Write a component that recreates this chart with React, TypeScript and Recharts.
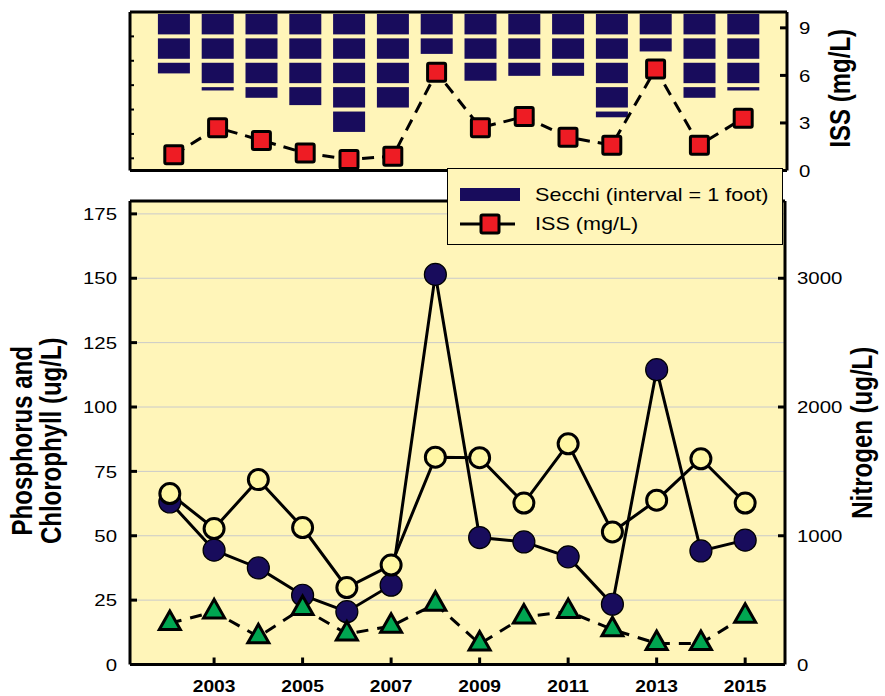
import React from "react";
import {
  ComposedChart,
  Bar,
  Line,
  XAxis,
  YAxis,
  CartesianGrid,
  Legend,
  Label,
} from "recharts";

// values
const years = [2002, 2003, 2004, 2005, 2006, 2007, 2008, 2009, 2010, 2011, 2012, 2013, 2014, 2015];
const secchiFt = [2.6, 3.3, 3.6, 3.9, 5.0, 4.0, 1.8, 2.9, 2.7, 2.7, 4.4, 1.7, 3.6, 3.3];
const issMgL = [1.0, 2.7, 1.9, 1.1, 0.7, 0.9, 6.2, 2.7, 3.4, 2.1, 1.6, 6.4, 1.6, 3.3];
const phosphorus = [63.1, 44.4, 37.5, 26.9, 20.5, 30.8, 151.5, 49.3, 47.6, 41.8, 23.4, 114.5, 44.1, 48.3];
const nitrogen = [1328, 1056, 1436, 1064, 598, 772, 1610, 1606, 1254, 1714, 1030, 1276, 1598, 1254];
const chlorophyll = [16.0, 20.5, 10.8, 21.8, 11.9, 14.9, 23.5, 8.0, 18.5, 20.6, 13.6, 8.2, 8.2, 18.8];

const issTicks = [0, 3, 6, 9];
const secchiTicks = [1, 2, 3, 4, 5, 6];
const leftTicks = [0, 25, 50, 75, 100, 125, 150, 175];
const nitrogenTicks = [0, 1000, 2000, 3000];
const yearTicks = [2003, 2005, 2007, 2009, 2011, 2013, 2015];

const topData = years.map((year, i) => ({ year, secchi: secchiFt[i], iss: issMgL[i] }));
const bottomData = years.map((year, i) => ({
  year,
  tp: phosphorus[i],
  tn: nitrogen[i],
  chl: chlorophyll[i],
}));

const FONT = '"Liberation Sans", Arial, Helvetica, sans-serif';
const SX = 1.2; // the original text is stretched sideways
const PANEL = "#FFF5B9";
const NAVY = "#180C5C";
const RED = "#EE1C24";
const GREEN = "#00A651";
const PALE = "#FFF7A4";
const frame = { stroke: "#000", strokeWidth: 3 };

// secchi bar split into 1 foot pieces
const SecchiShape = (props: any) => {
  const { x, y, width, height, payload } = props;
  const top = Math.min(y, y + height);
  const h = Math.abs(height);
  const ppf = h / payload.secchi;
  const parts = [];
  for (let k = 0; k * ppf < h; k++) {
    const s = top + k * ppf + 2;
    const e = Math.min(top + (k + 1) * ppf, top + h) - 2;
    if (e > s) parts.push(<rect key={k} x={x} y={s} width={width} height={e - s} fill={NAVY} />);
  }
  return <g>{parts}</g>;
};

const SquareDot = (p: any) => (
  <rect
    key={p.index}
    x={p.cx - 9}
    y={p.cy - 9}
    width={18}
    height={18}
    rx={1.5}
    fill={RED}
    stroke="#000"
    strokeWidth={3}
    strokeDasharray="none"
  />
);

const NavyDot = (p: any) => (
  <circle key={p.index} cx={p.cx} cy={p.cy} r={11} fill={NAVY} stroke="#000" strokeWidth={1.2} />
);

const PaleDot = (p: any) => (
  <circle key={p.index} cx={p.cx} cy={p.cy} r={10} fill={PALE} stroke="#000" strokeWidth={3} />
);

const TriDot = (p: any) => {
  const s = 21;
  const h = 18.5;
  const pts = `${p.cx},${p.cy - (2 * h) / 3} ${p.cx - s / 2},${p.cy + h / 3} ${p.cx + s / 2},${p.cy + h / 3}`;
  return (
    <polygon key={p.index} points={pts} fill={GREEN} stroke="#000" strokeWidth={3} strokeDasharray="none" />
  );
};

const Txt = ({ x, y, anchor, size, bold, children }: any) => (
  <text
    transform={`translate(${x},${y}) scale(${SX},1)`}
    textAnchor={anchor}
    dy="0.36em"
    fontFamily={FONT}
    fontSize={size}
    fontWeight={bold ? "bold" : "normal"}
    fill="#000"
  >
    {children}
  </text>
);

// ticks point into the plot; labels sit outside
const LeftTick = ({ x, y, payload }: any) => (
  <g>
    <line x1={x + 13} x2={x + 20} y1={y} y2={y} stroke="#000" strokeWidth={3} />
    <Txt x={x} y={y} anchor="end" size={17}>{payload.value}</Txt>
  </g>
);

const RightTick = ({ x, y, payload }: any) => (
  <g>
    <line x1={x - 12} x2={x - 19} y1={y} y2={y} stroke="#000" strokeWidth={3} />
    <Txt x={x} y={y} anchor="start" size={17}>{payload.value}</Txt>
  </g>
);

const SecchiTick = ({ x, y }: any) => (
  <line x1={x} x2={x + 4} y1={y} y2={y} stroke="#000" strokeWidth={2} />
);

const YearTick = ({ x, y, payload }: any) => (
  <g>
    <line x1={x} x2={x} y1={y - 22} y2={y - 29} stroke="#000" strokeWidth={3} />
    <Txt x={x} y={y} anchor="middle" size={16} bold>{payload.value}</Txt>
  </g>
);

const VTitle = ({ cx, cy, text }: any) => (
  <text
    transform={`translate(${cx},${cy}) scale(${SX},1) rotate(-90)`}
    textAnchor="middle"
    dominantBaseline="central"
    fontFamily={FONT}
    fontSize={24}
    fontWeight="bold"
    fill="#000"
  >
    {text}
  </text>
);

const LegendBox = () => (
  <svg width={336} height={77} style={{ display: "block" }}>
    <rect x={0.5} y={0.5} width={335} height={76} fill={PANEL} stroke="#000" strokeWidth={1} />
    <rect x={13} y={20} width={60} height={13} fill={NAVY} />
    <Txt x={88} y={27} anchor="start" size={18}>Secchi (interval = 1 foot)</Txt>
    <line x1={13} x2={68} y1={56} y2={56} stroke="#000" strokeWidth={3} />
    <rect x={34} y={47} width={18} height={18} rx={1.5} fill={RED} stroke="#000" strokeWidth={3} />
    <Txt x={88} y={56} anchor="start" size={18}>ISS (mg/L)</Txt>
  </svg>
);

export default function App() {
  return (
    <div style={{ position: "absolute", left: 0, top: 0, width: 885, height: 696 }}>
      <div style={{ position: "absolute", left: 0, top: 0 }}>
        <ComposedChart width={885} height={185} data={topData} margin={{ top: 0, right: 0, bottom: 0, left: 0 }}>
          <CartesianGrid horizontal={false} vertical={false} fill={PANEL} yAxisId="iss" />
          <XAxis
            dataKey="year"
            type="number"
            domain={[2001, 2016]}
            height={14.5}
            tick={false}
            tickLine={false}
            axisLine={frame}
          />
          <XAxis
            xAxisId="top"
            orientation="top"
            dataKey="year"
            type="number"
            domain={[2001, 2016]}
            height={12}
            tick={false}
            tickLine={false}
            axisLine={frame}
          />
          <YAxis
            yAxisId="secchi"
            type="number"
            domain={[0, 6.5]}
            reversed
            ticks={secchiTicks}
            interval={0}
            width={130}
            tickSize={0}
            tickMargin={0}
            tickLine={false}
            tick={<SecchiTick />}
            axisLine={frame}
          />
          <YAxis
            yAxisId="iss"
            orientation="right"
            type="number"
            domain={[0, 10]}
            ticks={issTicks}
            interval={0}
            width={98}
            tickSize={0}
            tickMargin={12}
            tickLine={false}
            tick={<RightTick />}
            axisLine={frame}
          >
            <Label
              content={(p: any) => (
                <VTitle cx={p.viewBox.x + 53} cy={p.viewBox.y + p.viewBox.height / 2 - 3} text="ISS (mg/L)" />
              )}
            />
          </YAxis>
          <Bar
            yAxisId="secchi"
            dataKey="secchi"
            name="Secchi (interval = 1 foot)"
            barSize={32}
            shape={<SecchiShape />}
            isAnimationActive={false}
          />
          <Line
            yAxisId="iss"
            dataKey="iss"
            name="ISS (mg/L)"
            type="linear"
            stroke="#000"
            strokeWidth={3}
            strokeDasharray="12 8"
            dot={SquareDot}
            activeDot={false}
            isAnimationActive={false}
          />
        </ComposedChart>
      </div>

      <div style={{ position: "absolute", left: 0, top: 185 }}>
        <ComposedChart width={885} height={511} data={bottomData} margin={{ top: 0, right: 0, bottom: 0, left: 0 }}>
          <CartesianGrid vertical={false} stroke="#CACACA" strokeWidth={1} fill={PANEL} />
          <XAxis
            dataKey="year"
            type="number"
            domain={[2001.1, 2015.9]}
            ticks={yearTicks}
            interval={0}
            height={31.5}
            tickSize={0}
            tickMargin={22}
            tickLine={false}
            tick={<YearTick />}
            axisLine={frame}
          />
          <XAxis
            xAxisId="top"
            orientation="top"
            dataKey="year"
            type="number"
            domain={[2001.1, 2015.9]}
            height={16}
            tick={false}
            tickLine={false}
            axisLine={frame}
          />
          <YAxis
            type="number"
            domain={[0, 180]}
            ticks={leftTicks}
            interval={0}
            width={130}
            tickSize={0}
            tickMargin={13}
            tickLine={false}
            tick={<LeftTick />}
            axisLine={frame}
          >
            <Label
              content={(p: any) => {
                const cy = p.viewBox.y + p.viewBox.height / 2 + 8;
                return (
                  <g>
                    <VTitle cx={22} cy={cy} text="Phosphorus and" />
                    <VTitle cx={51} cy={cy} text="Chlorophyll (ug/L)" />
                  </g>
                );
              }}
            />
          </YAxis>
          <YAxis
            yAxisId="n"
            orientation="right"
            type="number"
            domain={[0, 3600]}
            ticks={nitrogenTicks}
            interval={0}
            width={100}
            tickSize={0}
            tickMargin={12}
            tickLine={false}
            tick={<RightTick />}
            axisLine={frame}
          >
            <Label
              content={(p: any) => (
                <VTitle cx={p.viewBox.x + 77} cy={p.viewBox.y + p.viewBox.height / 2} text="Nitrogen (ug/L)" />
              )}
            />
          </YAxis>
          <Legend
            layout="vertical"
            align="center"
            verticalAlign="middle"
            wrapperStyle={{ left: 447, top: -17, width: 336, height: 77 }}
            content={() => <LegendBox />}
          />
          <Line
            dataKey="tp"
            name="Phosphorus"
            type="linear"
            stroke="#000"
            strokeWidth={3}
            dot={NavyDot}
            activeDot={false}
            isAnimationActive={false}
          />
          <Line
            yAxisId="n"
            dataKey="tn"
            name="Nitrogen"
            type="linear"
            stroke="#000"
            strokeWidth={3}
            dot={PaleDot}
            activeDot={false}
            isAnimationActive={false}
          />
          <Line
            dataKey="chl"
            name="Chlorophyll"
            type="linear"
            stroke="#000"
            strokeWidth={3}
            strokeDasharray="12 9"
            dot={TriDot}
            activeDot={false}
            isAnimationActive={false}
          />
        </ComposedChart>
      </div>
    </div>
  );
}
